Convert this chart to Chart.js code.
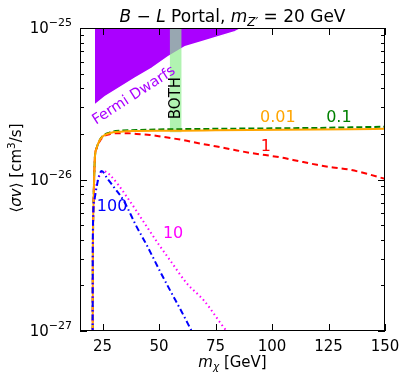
<!DOCTYPE html>
<html>
<head>
<meta charset="utf-8">
<script src="https://cdn.jsdelivr.net/npm/chart.js@4.4.1/dist/chart.umd.min.js"></script>
<style>
  html, body { margin: 0; padding: 0; background: #fff; }
  canvas { display: block; }
</style>
</head>
<body>
<canvas id="c" width="407" height="381"></canvas>
<script>
// values (m_chi in GeV, <sigma v> in cm^3/s)
const xTicks = [25, 50, 75, 100, 125, 150];
const yTicks = [1e-27, 1e-26, 1e-25];
const yTickExp = ['\u221227', '\u221226', '\u221225'];
const yMinor = [2e-27, 3e-27, 4e-27, 5e-27, 6e-27, 7e-27, 8e-27, 9e-27,
                2e-26, 3e-26, 4e-26, 5e-26, 6e-26, 7e-26, 8e-26, 9e-26];

const mFermi  = [21.6, 26.1, 32.0, 39.3, 46.7, 54.1, 61.5, 68.9, 76.2, 83.6, 88.0, 92.0];
const svFermi = [3.11e-26, 3.52e-26, 4.0e-26, 4.66e-26, 5.42e-26, 6.47e-26, 7.53e-26, 8.12e-26, 8.77e-26, 9.46e-26, 1.02e-25, 1.1e-25];

const mBoth  = [54.7, 60.0];
const svBoth = [2.05e-26, 2.05e-26];

const mOrange  = [20.5, 20.7, 21.0, 21.6, 22.3, 23.1, 25, 28, 33, 40, 50, 60, 75, 90, 105, 120, 135, 150];
const svOrange = [1e-28, 3e-27, 7e-27, 1.4e-26, 1.6e-26, 1.74e-26, 1.92e-26, 2.02e-26, 2.07e-26, 2.09e-26, 2.1e-26, 2.1e-26, 2.11e-26, 2.12e-26, 2.13e-26, 2.14e-26, 2.15e-26, 2.16e-26];

const mGreen  = [20.5, 20.7, 21.0, 21.6, 22.3, 23.1, 25, 28, 33, 40, 50, 60, 75, 90, 105, 120, 135, 150];
const svGreen = [1e-28, 3e-27, 7e-27, 1.4e-26, 1.6e-26, 1.74e-26, 1.93e-26, 2.04e-26, 2.1e-26, 2.12e-26, 2.14e-26, 2.15e-26, 2.16e-26, 2.17e-26, 2.18e-26, 2.19e-26, 2.21e-26, 2.23e-26];

const mRed  = [20.5, 20.7, 21.0, 21.6, 22.3, 23.1, 25, 28, 32, 36, 40, 46, 53, 60.6, 68, 75.6, 83, 90.2, 97, 104.8, 112, 119.9, 127, 134.5, 142, 150];
const svRed = [1e-28, 3e-27, 7e-27, 1.4e-26, 1.6e-26, 1.72e-26, 1.9e-26, 1.99e-26, 2.02e-26, 2.02e-26, 2.0e-26, 1.97e-26, 1.9e-26, 1.82e-26, 1.73e-26, 1.65e-26, 1.57e-26, 1.5e-26, 1.45e-26, 1.39e-26, 1.32e-26, 1.25e-26, 1.2e-26, 1.16e-26, 1.09e-26, 1.01e-26];

const mMagenta  = [20.5, 20.7, 21.2, 22, 23, 24, 25.5, 26.8, 28.3, 32, 35.7, 40, 44.5, 50, 54.8, 62.2, 70, 79.9, 82];
const svMagenta = [1e-28, 4e-27, 7e-27, 8.8e-27, 1.0e-26, 1.09e-26, 1.13e-26, 1.12e-26, 1.07e-26, 9.2e-27, 7.7e-27, 6.2e-27, 4.9e-27, 3.7e-27, 2.94e-27, 2.07e-27, 1.58e-27, 1e-27, 9.3e-28];

const mBlue  = [20.5, 20.7, 21.3, 22.4, 23.5, 24.6, 27, 30, 34.2, 40.1, 44.5, 50.4, 55, 60, 64.4, 66];
const svBlue = [1e-28, 4.6e-27, 7.3e-27, 9e-27, 1.07e-26, 1.14e-26, 1.02e-26, 8.9e-27, 7.3e-27, 4.87e-27, 3.7e-27, 2.48e-27, 1.84e-27, 1.34e-27, 1e-27, 9e-28];

// text placed in data coordinates
const notes = [
  { text: '0.01', x: 102.6, y: 2.55e-26, color: '#ffa500', rot: 0, size: 16 },
  { text: '0.1', x: 129.6, y: 2.55e-26, color: 'green', rot: 0, size: 16 },
  { text: '1', x: 97.3, y: 1.64e-26, color: 'red', rot: 0, size: 16 },
  { text: '100', x: 29.2, y: 6.6e-27, color: 'blue', rot: 0, size: 16 },
  { text: '10', x: 56.2, y: 4.37e-27, color: 'magenta', rot: 0, size: 16 },
  { text: 'Fermi Dwarfs', x: 38.9, y: 3.58e-26, color: '#aa00ff', rot: -33, size: 14.5 },
  { text: 'BOTH', x: 57.6, y: 3.45e-26, color: '#000', rot: -90, size: 15 }
];

const F = '"DejaVu Sans", sans-serif';
const pts = (xs, ys) => xs.map((v, i) => ({ x: v, y: ys[i] }));

// draws mixed italic / sub / superscript text centered on cx
function drawRich(ctx, segs, cx, base, size) {
  const fontOf = s => `${s.it ? 'italic ' : ''}${s.sub || s.sup ? size * 0.7 : size}px ${F}`;
  let w = 0;
  segs.forEach(s => { ctx.font = fontOf(s); s.w = ctx.measureText(s.t).width; w += s.w; });
  let xx = cx - w / 2;
  ctx.textAlign = 'left';
  ctx.textBaseline = 'alphabetic';
  segs.forEach(s => {
    ctx.font = fontOf(s);
    const dy = s.sub ? size * 0.22 : s.sup ? -size * 0.4 : 0;
    ctx.fillText(s.t, xx, base + dy);
    xx += s.w;
  });
}

const deco = {
  id: 'deco',
  afterDatasetsDraw(chart) {
    const { ctx, chartArea: a, scales: { x, y } } = chart;
    ctx.save();

    notes.forEach(n => {
      ctx.save();
      ctx.translate(x.getPixelForValue(n.x), y.getPixelForValue(n.y));
      ctx.rotate(n.rot * Math.PI / 180);
      ctx.font = `${n.size}px ${F}`;
      ctx.fillStyle = n.color;
      ctx.textAlign = 'center';
      ctx.textBaseline = 'middle';
      ctx.fillText(n.text, 0, 0);
      ctx.restore();
    });

    // frame + inward ticks
    ctx.strokeStyle = '#000';
    ctx.lineWidth = 1;
    ctx.strokeRect(a.left + 0.5, a.top + 0.5, a.right - a.left - 1, a.bottom - a.top - 1);
    ctx.beginPath();
    xTicks.forEach(v => {
      const px = Math.round(x.getPixelForValue(v)) + 0.5;
      ctx.moveTo(px, a.bottom); ctx.lineTo(px, a.bottom - 7);
      ctx.moveTo(px, a.top); ctx.lineTo(px, a.top + 7);
    });
    yTicks.forEach(v => {
      const py = Math.round(y.getPixelForValue(v)) + 0.5;
      ctx.moveTo(a.left, py); ctx.lineTo(a.left + 7, py);
      ctx.moveTo(a.right, py); ctx.lineTo(a.right - 7, py);
    });
    yMinor.forEach(v => {
      const py = Math.round(y.getPixelForValue(v)) + 0.5;
      ctx.moveTo(a.left, py); ctx.lineTo(a.left + 4, py);
      ctx.moveTo(a.right, py); ctx.lineTo(a.right - 4, py);
    });
    ctx.stroke();

    // tick labels
    ctx.fillStyle = '#000';
    ctx.font = `15px ${F}`;
    ctx.textAlign = 'center';
    ctx.textBaseline = 'alphabetic';
    xTicks.forEach(v => ctx.fillText(String(v), x.getPixelForValue(v), a.bottom + 20));
    yTicks.forEach((v, i) => {
      const py = y.getPixelForValue(v);
      ctx.font = `11px ${F}`;
      const ew = ctx.measureText(yTickExp[i]).width;
      ctx.textAlign = 'right';
      ctx.fillText(yTickExp[i], 72, py - 2);
      ctx.font = `15px ${F}`;
      ctx.fillText('10', 72 - ew, py + 5);
    });

    // title and axis labels
    drawRich(ctx, [
      { t: 'B', it: true }, { t: ' \u2212 ' }, { t: 'L', it: true }, { t: ' Portal, ' },
      { t: 'm', it: true }, { t: 'Z\u2032', it: true, sub: true }, { t: ' = 20 GeV' }
    ], (a.left + a.right) / 2, 22, 17);
    drawRich(ctx, [{ t: 'm', it: true }, { t: '\u03c7', it: true, sub: true }, { t: ' [GeV]' }],
      (a.left + a.right) / 2, 367, 15);
    ctx.save();
    ctx.translate(21, 168);
    ctx.rotate(-Math.PI / 2);
    drawRich(ctx, [{ t: '\u27e8' }, { t: '\u03c3v', it: true }, { t: '\u27e9 [cm' }, { t: '3', sup: true }, { t: '/s]' }],
      0, 0, 15);
    ctx.restore();

    ctx.restore();
  }
};

const line = (xs, ys, color, dash, order) => ({
  data: pts(xs, ys), borderColor: color, borderDash: dash, borderWidth: 2,
  pointRadius: 0, fill: false, cubicInterpolationMode: 'monotone', order
});

new Chart(document.getElementById('c'), {
  type: 'line',
  data: {
    datasets: [
      { data: pts(mFermi, svFermi), fill: 'end', backgroundColor: '#aa00ff', borderColor: '#fff',
        borderWidth: 1.5, pointRadius: 0, order: 10 },
      { data: pts(mBoth, svBoth), fill: 'end', backgroundColor: 'rgba(144,238,144,0.7)',
        borderColor: 'rgba(0,0,0,0)', borderWidth: 0, pointRadius: 0, order: 9 },
      line(mGreen, svGreen, 'green', [6, 3], 6),
      line(mRed, svRed, 'red', [6, 4], 5),
      line(mOrange, svOrange, '#ffa500', [], 4),
      line(mMagenta, svMagenta, 'magenta', [1.5, 3], 3),
      line(mBlue, svBlue, 'blue', [6, 3, 1.5, 3], 2)
    ]
  },
  options: {
    responsive: false,
    devicePixelRatio: 1,
    animation: false,
    layout: { padding: { left: 80, right: 22, top: 28, bottom: 50 } },
    plugins: { legend: { display: false }, tooltip: { enabled: false } },
    scales: {
      x: { type: 'linear', min: 15, max: 150, display: false },
      y: { type: 'logarithmic', min: 1e-27, max: 1e-25, display: false }
    }
  },
  plugins: [deco]
});
</script>
</body>
</html>
